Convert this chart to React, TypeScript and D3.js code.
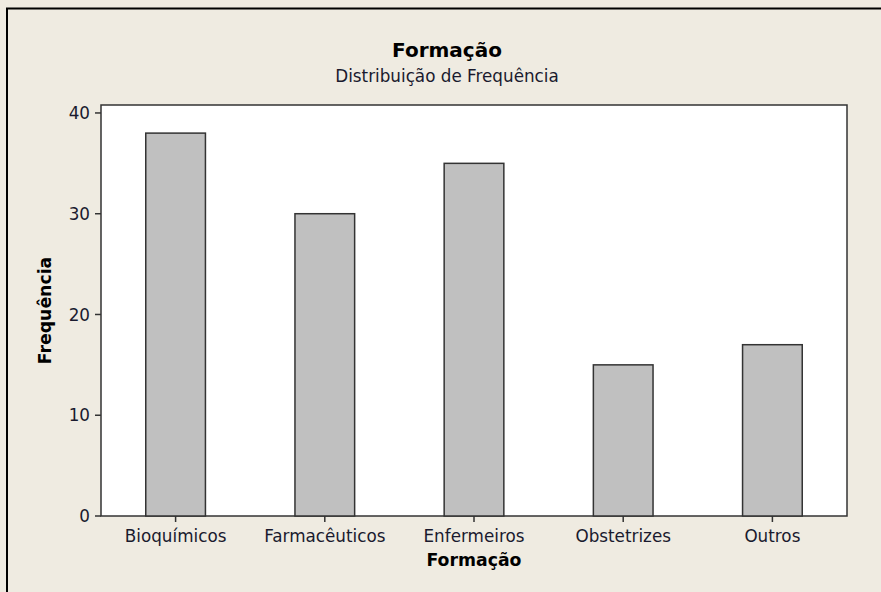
import React from "react";
import * as d3 from "d3";

const categories = ["Bioquímicos", "Farmacêuticos", "Enfermeiros", "Obstetrizes", "Outros"];
const frequencies = [38, 30, 35, 15, 17];
const yTicks = [0, 10, 20, 30, 40];

const W = 881;
const H = 592;
const plot = { left: 101, top: 105, right: 847, bottom: 516 };
const FONT = "'DejaVu Sans', Verdana, sans-serif";

export default function App() {
  const x = d3
    .scaleBand<string>()
    .domain(categories)
    .range([plot.left, plot.right])
    .paddingInner(0.6)
    .paddingOuter(0.3);
  const y = d3.scaleLinear().domain([0, 40.79]).range([plot.bottom, plot.top]);
  const frameColor = "#333";
  const textColor = "#1a1a2e";
  return (
    <div style={{ position: "absolute", left: 0, top: 0 }}>
      <svg width={W} height={H} style={{ display: "block" }}>
        <rect x={0} y={0} width={W} height={H} fill="#EFEBE1" />
        <path d={`M7,${H} V8.5 H${W}`} fill="none" stroke="#000" strokeWidth={2} />
        <text x={447} y={57} textAnchor="middle" fontFamily={FONT} fontWeight="bold" fontSize={20} fill="#000">
          Formação
        </text>
        <text x={447} y={82} textAnchor="middle" fontFamily={FONT} fontSize={16.8} fill={textColor}>
          Distribuição de Frequência
        </text>
        <rect
          x={plot.left}
          y={plot.top}
          width={plot.right - plot.left}
          height={plot.bottom - plot.top}
          fill="#fff"
          stroke={frameColor}
          strokeWidth={1.5}
        />
        {categories.map((c, i) => (
          <rect
            key={c}
            x={x(c)!}
            y={y(frequencies[i])}
            width={x.bandwidth()}
            height={y(0) - y(frequencies[i])}
            fill="#C0C0C0"
            stroke={frameColor}
            strokeWidth={1.5}
          />
        ))}
        {yTicks.map((t) => (
          <g key={t}>
            <line x1={95} x2={plot.left} y1={y(t)} y2={y(t)} stroke={frameColor} strokeWidth={1.5} />
            <text
              x={90}
              y={y(t)}
              dy="0.36em"
              textAnchor="end"
              fontFamily={FONT}
              fontSize={16.8}
              fill={textColor}
            >
              {t}
            </text>
          </g>
        ))}
        {categories.map((c) => {
          const cx = x(c)! + x.bandwidth() / 2;
          return (
            <g key={c}>
              <line x1={cx} x2={cx} y1={plot.bottom} y2={plot.bottom + 6} stroke={frameColor} strokeWidth={1.5} />
              <text x={cx} y={542} textAnchor="middle" fontFamily={FONT} fontSize={16.8} fill={textColor}>
                {c}
              </text>
            </g>
          );
        })}
        <text
          x={(plot.left + plot.right) / 2}
          y={566}
          textAnchor="middle"
          fontFamily={FONT}
          fontWeight="bold"
          fontSize={17.3}
          fill="#000"
        >
          Formação
        </text>
        <text
          transform={`translate(51,${(plot.top + plot.bottom) / 2}) rotate(-90)`}
          textAnchor="middle"
          fontFamily={FONT}
          fontWeight="bold"
          fontSize={17.3}
          fill="#000"
        >
          Frequência
        </text>
      </svg>
    </div>
  );
}
